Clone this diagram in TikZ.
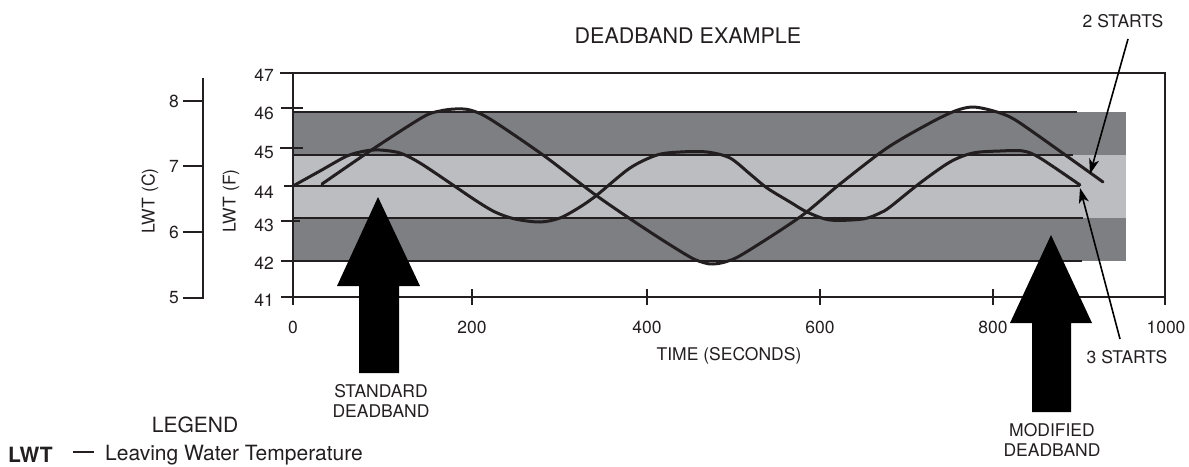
\documentclass[tikz,border=0pt]{standalone}
\usepackage{fontspec}
\setmainfont{TeX Gyre Heros}
\usetikzlibrary{arrows.meta}
\definecolor{ink}{HTML}{231F20}
\definecolor{darkband}{HTML}{7E7F83}
\definecolor{lightband}{HTML}{BCBDC1}
\begin{document}
\begin{tikzpicture}[x=1pt,y=-1pt,
  lbl/.style={font=\fontsize{17.5}{20}\selectfont, text=ink, inner sep=0pt},
  biglbl/.style={font=\fontsize{21}{23}\selectfont, text=ink, inner sep=0pt},
  bandline/.style={draw=ink, line width=2pt},
  axisline/.style={draw=ink, line width=2.8pt},
  tickline/.style={draw=ink, line width=2.5pt},
  curve/.style={draw=ink, line width=3pt, line join=round, line cap=round},
  fatarrow/.style={fill=black, draw=none},
  thinarrow/.style={draw=black, line width=1.6pt, -{Stealth[length=15pt,width=10pt,inset=4pt]}}]
\useasboundingbox (0,0) rectangle (1189,466);
% bands
\fill[darkband] (293,112) rectangle (1126,261);
\fill[lightband] (293,155) rectangle (1126,218);
\draw[bandline] (293,112) -- (1077,112);
\draw[bandline] (293,155) -- (1073,155);
\draw[bandline] (293,186) -- (1080,186);
\draw[bandline] (293,218) -- (1083,218);
\draw[bandline] (293,261) -- (1082,261);
% curves
\draw[curve] plot[smooth, tension=0.5] coordinates {(322,184) (373,149) (423,117) (440,111) (455,109) (470,110) (490,119) (543,155) (597,196) (650,232) (690,257) (705,263) (713,264) (725,262) (743,254) (800,217) (840,184) (887,148) (930,123) (955,111) (972,107) (990,110) (1010,117) (1033,132) (1103,182)};
\draw[curve] plot[smooth, tension=0.5] coordinates {(293,186) (320,171) (347,156) (365,151) (380,150) (400,153) (420,163) (450,183) (475,200) (495,212) (515,219) (540,222) (560,218) (580,207) (597,195) (630,168) (657,155) (680,152) (707,152) (730,158) (750,174) (767,188) (790,202) (807,212) (830,220) (863,219) (880,213) (890,207) (920,183) (950,162) (973,153) (1000,151) (1023,151) (1040,158) (1080,185)};
% frame and axes
\draw[axisline] (293,73) -- (1165,73) -- (1165,305);
\draw[axisline] (293,73) -- (293,305);
\draw[axisline] (293,297) -- (1165,297);
\foreach \x in {472,647,820,993} \draw[tickline] (\x,289) -- (\x,305);
\draw[tickline] (280,73) -- (293,73);
\draw[tickline] (281,108) -- (303,108);
\draw[tickline] (280,148) -- (303,148);
\draw[tickline] (284,186) -- (293,186);
\draw[tickline] (281,221) -- (300,221);
\draw[tickline] (281,261) -- (302,261);
\draw[tickline] (281,297) -- (293,297);
% Fahrenheit labels
\foreach \v/\y in {47/75,46/113,45/152,44/192,43/225,42/263,41/300}
  \node[lbl, anchor=east] (f\v) at (274,\y) {\v};
% x labels
\foreach \v/\x in {0/293,200/472,400/647,600/820,800/993,1000/1166}
  \node[lbl] (x\v) at (\x,327) {\v};
\node[lbl] (xt) at (729,356) {TIME (SECONDS)};
% Celsius axis
\draw[axisline] (203,78) -- (203,299);
\foreach \v/\y in {8/101,7/166,6/232,5/298}{
  \draw[tickline] (183,\y) -- (204,\y);
  \node[lbl, anchor=east] (c\v) at (179,\y) {\v};}
\node[lbl, rotate=90] (lc) at (150,201) {LWT (C)};
\node[lbl, rotate=90] (lf) at (231,201) {LWT (F)};
% title
\node[lbl, font=\fontsize{21.5}{23}\selectfont] (title) at (688,36) {DEADBAND EXAMPLE};
% fat arrows
\fill[fatarrow] (378,197) -- (420,286) -- (399,286) -- (399,373) -- (359,373) -- (359,286) -- (337,286) -- cycle;
\fill[fatarrow] (1051,235) -- (1092,323) -- (1071,323) -- (1071,412) -- (1032,412) -- (1032,323) -- (1010,323) -- cycle;
\node[lbl, align=center] (std) at (381,401) {STANDARD\\DEADBAND};
\node[lbl, align=center] (mod) at (1052,440) {MODIFIED\\DEADBAND};
% start arrows
\node[lbl] (s2) at (1123,21) {2 STARTS};
\node[lbl] (s3) at (1127,357) {3 STARTS};
\coordinate (s2a) at (1128,39);
\coordinate (s2b) at (1090,174);
\coordinate (s3a) at (1120,339);
\coordinate (s3b) at (1080,188);
\draw[thinarrow] (s2a) -- (s2b);
\draw[thinarrow] (s3a) -- (s3b);
% legend
\node[biglbl] (leg) at (195,425) {LEGEND};
\node[biglbl, anchor=west, font=\fontsize{21}{23}\selectfont\bfseries] (lwt) at (8,455) {LWT};
\node[biglbl, anchor=west] (lwtd) at (73,455) {\rule[0.3em]{21pt}{2.4pt}};
\node[biglbl, anchor=west] (lwtt) at (105,455) {Leaving Water Temperature};
\end{tikzpicture}
\end{document}
